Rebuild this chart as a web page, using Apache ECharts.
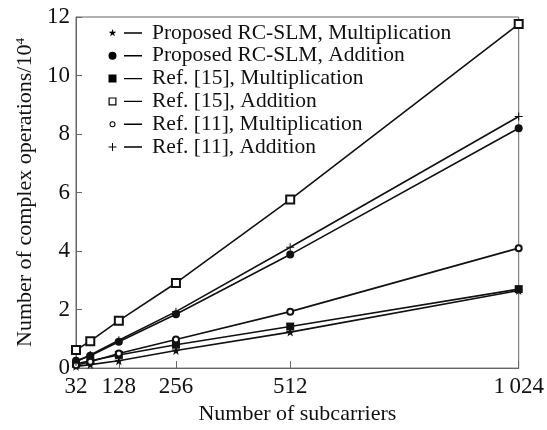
<!DOCTYPE html>
<html>
<head>
<meta charset="utf-8">
<script src="https://cdn.jsdelivr.net/npm/echarts@6/dist/echarts.min.js"></script>
<style>html,body{margin:0;padding:0;background:#fff;}#c{width:547px;height:430px;}</style>
</head>
<body>
<div id="c"></div>
<script>
const subcarriers = [32, 64, 128, 256, 512, 1024];
const xTickValues = [32, 128, 256, 512, 1024];
const xTickLabels = ['32', '128', '256', '512', '1\u2009024'];
const yTickLabels = ['0', '2', '4', '6', '8', '10', '12'];
const seriesNames = [
  'Proposed RC-SLM, Multiplication',
  'Proposed RC-SLM, Addition',
  'Ref. [15], Multiplication',
  'Ref. [15], Addition',
  'Ref. [11], Multiplication',
  'Ref. [11], Addition'
];
const proposedMult = [0.06, 0.12, 0.25, 0.60, 1.23, 2.65];
const proposedAdd  = [0.25, 0.42, 0.90, 1.84, 3.88, 8.20];
const ref15Mult    = [0.15, 0.25, 0.45, 0.80, 1.42, 2.70];
const ref15Add     = [0.62, 0.92, 1.62, 2.91, 5.76, 11.76];
const ref11Mult    = [0.10, 0.22, 0.50, 0.98, 1.93, 4.10];
const ref11Add     = [0.22, 0.45, 0.95, 1.93, 4.13, 8.60];

const values = [proposedMult, proposedAdd, ref15Mult, ref15Add, ref11Mult, ref11Add];

const FONT = 'Liberation Serif';
const starPath = 'M4.5,0.5L5.44,3.206L8.304,3.264L6.022,4.994L6.851,7.736L4.5,6.1L2.149,7.736L2.978,4.994L0.696,3.264L3.56,3.206Z';
const plusPath = 'M4,0.5H5V4H8.5V5H5V8.5H4V5H0.5V4H4Z';
const seriesSymbols = [
  {symbol: 'path://' + starPath, size: 9},
  {symbol: 'circle', size: 8},
  {symbol: 'rect', size: 8},
  {symbol: 'emptyRect', size: 8},
  {symbol: 'emptyCircle', size: 6},
  {symbol: 'path://' + plusPath, size: 8}
];
const corners = 'M0,0L0.001,0Z M34,9L33.999,9Z ';
const lineSeg = 'M16,3.8H34V5.2H16Z ';
const legendMarkers = [
  starPath,
  'M0.5,4.5A4,4,0,1,1,8.5,4.5A4,4,0,1,1,0.5,4.5Z',
  'M0.5,0.5H8.5V8.5H0.5Z',
  'M0.5,0.5H8.5V8.5H0.5Z M1.7,1.7V7.3H7.3V1.7Z',
  'M1.5,4.5A3,3,0,1,1,7.5,4.5A3,3,0,1,1,1.5,4.5Z M2.5,4.5A2,2,0,1,0,6.5,4.5A2,2,0,1,0,2.5,4.5Z',
  plusPath
];

const series = seriesNames.map((name, i) => ({
  name: name,
  type: 'line',
  data: subcarriers.map((x, j) => [x, values[i][j]]),
  symbol: seriesSymbols[i].symbol,
  symbolSize: seriesSymbols[i].size,
  showAllSymbol: true,
  lineStyle: {color: '#111', width: 1.6},
  itemStyle: {color: '#111', borderColor: '#111', borderWidth: i === 3 || i === 4 ? 1 : 0},
  emphasis: {disabled: true},
  animation: false
}));

const tickRich = {t: {fontFamily: FONT, fontSize: 23, color: '#111'}};

const chart = echarts.init(document.getElementById('c'));
chart.setOption({
  backgroundColor: '#fff',
  animation: false,
  textStyle: {fontFamily: FONT, color: '#111'},
  grid: {left: 76, right: 22, top: 17, bottom: 55, show: true, borderColor: '#666', borderWidth: 1},
  legend: {
    orient: 'vertical',
    left: 103,
    top: 17,
    itemWidth: 44,
    itemHeight: 9,
    itemGap: 0.8,
    symbolKeepAspect: true,
    selectedMode: false,
    itemStyle: {color: '#000', borderWidth: 0},
    textStyle: {fontFamily: FONT, fontSize: 21.5, color: '#111', lineHeight: 20},
    data: seriesNames.map((n, i) => ({name: n, icon: 'path://' + corners + lineSeg + legendMarkers[i]}))
  },
  xAxis: {
    type: 'value',
    min: 32,
    max: 1024,
    name: 'Number of subcarriers',
    nameLocation: 'middle',
    nameGap: 31,
    nameTextStyle: {fontFamily: FONT, fontSize: 22, color: '#111'},
    axisLine: {lineStyle: {color: '#666', width: 1}},
    axisTick: {inside: true, length: 7, customValues: xTickValues, lineStyle: {color: '#666'}},
    axisLabel: {
      customValues: xTickValues,
      margin: 7,
      fontFamily: FONT, fontSize: 23, color: '#111',
      rich: tickRich,
      formatter: v => '{t|' + xTickLabels[xTickValues.indexOf(v)] + '}'
    },
    splitLine: {show: false}
  },
  yAxis: {
    type: 'value',
    min: 0,
    max: 12,
    interval: 2,
    name: 'Number of complex operations/10{sup|4}',
    nameLocation: 'middle',
    nameGap: 38,
    nameTextStyle: {fontFamily: FONT, fontSize: 22, color: '#111',
      rich: {sup: {fontFamily: FONT, fontSize: 13, color: '#111', padding: [0, 0, 10, 0]}}},
    axisLine: {show: true, lineStyle: {color: '#666', width: 1}},
    axisTick: {show: true, inside: true, length: 6, lineStyle: {color: '#666'}},
    axisLabel: {
      margin: 6,
      fontFamily: FONT, fontSize: 23, color: '#111',
      rich: tickRich,
      formatter: v => '{t|' + yTickLabels[Math.round(v / 2)] + '}'
    },
    splitLine: {show: false}
  },
  series: series
});
</script>
</body>
</html>
